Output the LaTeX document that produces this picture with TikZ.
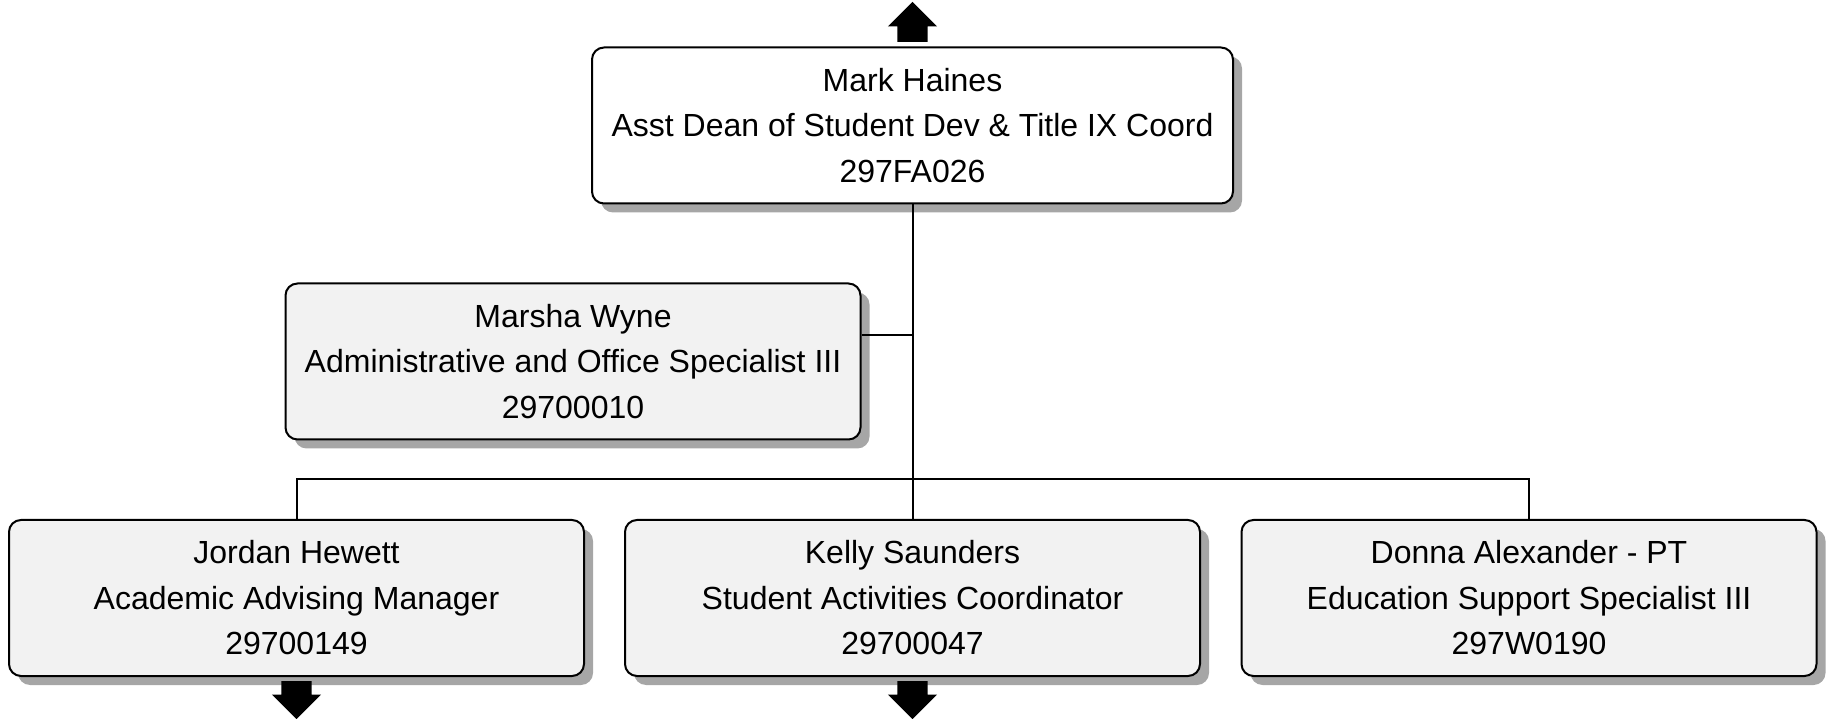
\documentclass[tikz,border=0pt]{standalone}
\usepackage{fontspec}
\setmainfont{Liberation Sans}
\usetikzlibrary{shadows,shapes.arrows}
\definecolor{boxgray}{HTML}{F2F2F2}
\definecolor{shadegray}{HTML}{A6A6A6}
\tikzset{
  staffbox/.style={draw, rounded corners=12pt, line width=2pt, align=center,
    minimum width=575pt, minimum height=156pt, fill=boxgray,
    font=\fontsize{32}{45.5}\selectfont,
    drop shadow={shadow xshift=9pt, shadow yshift=-9pt, fill=shadegray, opacity=1}},
  headbox/.style={staffbox, fill=white, minimum width=641pt},
  link/.style={line width=2pt},
  more/.style={single arrow, fill=black, draw=none, inner xsep=15pt, inner ysep=0pt,
    minimum height=40pt, minimum width=49pt, single arrow head extend=9.5pt, anchor=tail},
}

\begin{document}
\begin{tikzpicture}[x=1pt, y=1pt]
    \useasboundingbox (0,0) rectangle (1831,718);
    \node[headbox] (haines) at (912.5,592.5) {Mark Haines\\Asst Dean of Student Dev \& Title IX Coord\\297FA026};
    \node[staffbox] (wyne) at (573,356.5) {Marsha Wyne\\Administrative and Office Specialist III\\29700010};
    \node[staffbox] (hewett) at (296.5,120) {Jordan Hewett\\Academic Advising Manager\\29700149};
    \node[staffbox] (saunders) at (912.5,120) {Kelly Saunders\\Student Activities Coordinator\\29700047};
    \node[staffbox] (alexander) at (1529,120) {Donna Alexander - PT\\Education Support Specialist III\\297W0190};
    \node[more, shape border rotate=90] (upmore) at ([yshift=4.5pt]haines.north) {};
    \node[more, shape border rotate=270, minimum height=38pt] (hewettmore) at ([yshift=-4pt]hewett.south) {};
    \node[more, shape border rotate=270, minimum height=38pt] (saundersmore) at ([yshift=-4pt]saunders.south) {};
    \coordinate (bus) at (912.5,239);
    \coordinate (wynetap) at (912.5,383);
    \draw[link] (haines.south) -- (bus);
    \draw[link] (wyne.east |- wynetap) -- (wynetap);
    \draw[link] (hewett.north) |- (bus) -| (alexander.north);
    \draw[link] (bus) -- (saunders.north);
  \end{tikzpicture}
\end{document}
